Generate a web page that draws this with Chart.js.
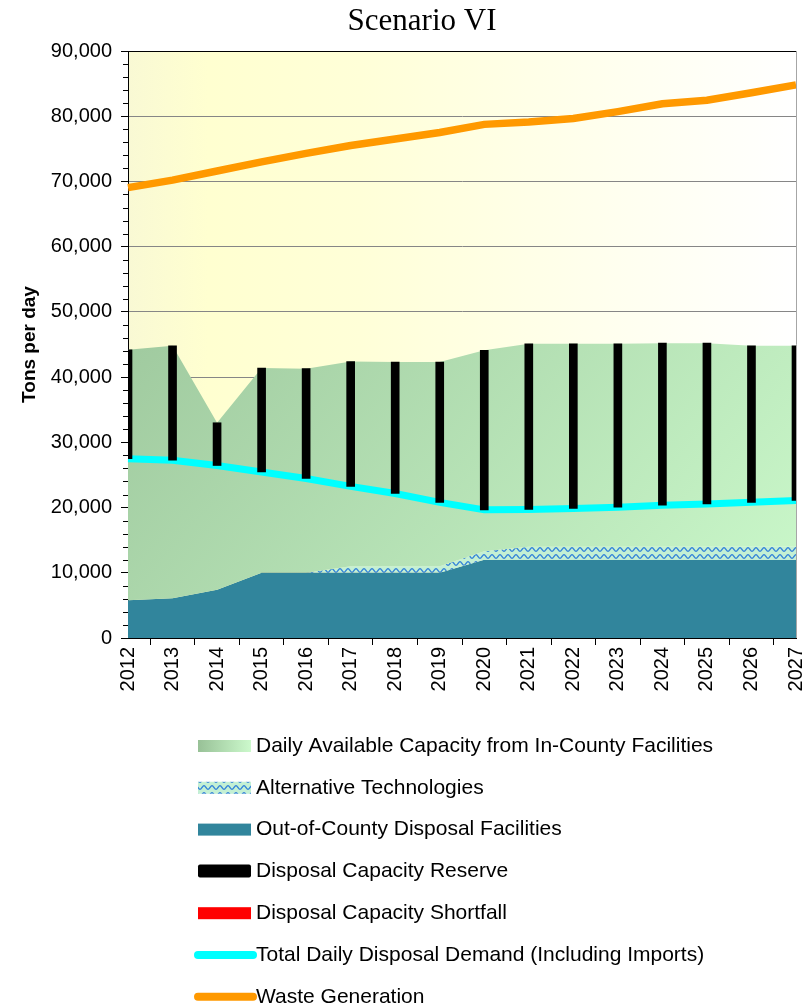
<!DOCTYPE html>
<html>
<head>
<meta charset="utf-8">
<title>Scenario VI</title>
<script src="https://cdn.jsdelivr.net/npm/chart.js@4.4.1/dist/chart.umd.min.js"></script>
<style>
  body { margin: 0; background: #fff; }
  canvas { display: block; }
</style>
</head>
<body>
<canvas id="myChart" width="812" height="1008"></canvas>
<script>
// Tons per day, one value per year
const years = ['2012', '2013', '2014', '2015', '2016', '2017', '2018', '2019',
               '2020', '2021', '2022', '2023', '2024', '2025', '2026', '2027'];
const outOfCounty = [5800, 6100, 7400, 10000, 10000, 10000, 10000, 10000,
                     12000, 12000, 12000, 12000, 12000, 12000, 12000, 12000];
const altTech = [0, 0, 0, 0, 0, 1000, 1000, 1000,
                 1300, 2000, 2000, 2000, 2000, 2000, 2000, 2000];
const inCounty = [38400, 38700, 25600, 31400, 31300, 31400, 31300, 31300,
                  30800, 31100, 31100, 31100, 31200, 31200, 30800, 30800];
const demand = [27500, 27250, 26450, 25450, 24450, 23250, 22150, 20800,
                19650, 19700, 19850, 20050, 20350, 20550, 20800, 21100];
const shortfall = [null, null, null, null, null, null, null, null,
                   null, null, null, null, null, null, null, null];
const generation = [69050, 70200, 71600, 73000, 74300, 75500, 76500, 77500,
                    78750, 79100, 79650, 80700, 81900, 82450, 83600, 84800];
const yTicks = { min: 0, max: 90000, step: 10000, minor: 2000 };

// tops of the stacked areas
const altTop = outOfCounty.map((v, i) => v + altTech[i]);
const capacityTop = altTop.map((v, i) => v + inCounty[i]);
// reserve bars run from the demand line up to the available capacity
const reserve = demand.map((d, i) => [d, capacityTop[i]]);

const FONT = '"Liberation Sans", Arial, sans-serif';

// wavy fill used for alternative technologies
function makeWavePattern() {
  const c = document.createElement('canvas');
  c.width = 8;
  c.height = 7;
  const g = c.getContext('2d');
  g.fillStyle = '#c4f0d4';
  g.fillRect(0, 0, 8, 7);
  g.strokeStyle = '#3584d8';
  g.lineWidth = 1.3;
  g.beginPath();
  for (let x = 0; x <= 8; x += 0.5) {
    const y = 3.5 + 1.8 * Math.cos(2 * Math.PI * x / 8);
    if (x === 0) g.moveTo(x, y); else g.lineTo(x, y);
  }
  g.stroke();
  return g.createPattern(c, 'repeat');
}
const ctx = document.getElementById('myChart');
const wave = makeWavePattern();

function greenFill(context) {
  const area = context.chart.chartArea;
  if (!area) return '#b0d8ae';
  const g = context.chart.ctx.createLinearGradient(area.left, area.top, area.right, area.bottom);
  g.addColorStop(0, '#94bd93');
  g.addColorStop(1, '#ccfacc');
  return g;
}

// yellow-to-white plot background
const plotBackground = {
  id: 'plotBackground',
  beforeDraw(chart) {
    const { ctx, chartArea: a } = chart;
    const g = ctx.createLinearGradient(a.left, 0, a.right, 0);
    g.addColorStop(0, '#f9f9d4');
    g.addColorStop(0.12, '#ffffd0');
    g.addColorStop(0.35, '#ffffd8');
    g.addColorStop(1, '#ffffff');
    ctx.save();
    ctx.fillStyle = g;
    ctx.fillRect(a.left, a.top, a.right - a.left, a.bottom - a.top);
    ctx.restore();
  }
};

// minor tick marks on the y axis, plus the plot frame
const frameAndMinorTicks = {
  id: 'frameAndMinorTicks',
  afterDatasetsDraw(chart) {
    const { ctx, chartArea: a } = chart;
    ctx.save();
    ctx.strokeStyle = '#a6a6a6';
    ctx.lineWidth = 1;
    ctx.beginPath();
    ctx.moveTo(a.right + 0.5, a.top);
    ctx.lineTo(a.right + 0.5, a.bottom);
    ctx.stroke();
    ctx.strokeStyle = '#000';
    ctx.beginPath();
    ctx.moveTo(a.left, a.top + 0.5);
    ctx.lineTo(a.right, a.top + 0.5);
    ctx.stroke();
    const y = chart.scales.y;
    ctx.beginPath();
    for (let v = yTicks.min; v <= yTicks.max; v += yTicks.minor) {
      if (v % yTicks.step === 0) continue;
      const py = Math.round(y.getPixelForValue(v)) + 0.5;
      ctx.moveTo(a.left - 5, py);
      ctx.lineTo(a.left, py);
    }
    ctx.stroke();
    ctx.restore();
  }
};

// one-column legend under the chart
const columnLegend = {
  id: 'columnLegend',
  afterDraw(chart) {
    const { ctx, chartArea: a } = chart;
    const x0 = 198, x1 = 251;
    let y = a.bottom + 108;
    ctx.save();
    ctx.font = '21px ' + FONT;
    ctx.textBaseline = 'middle';
    ctx.fillStyle = '#000';
    chart.data.datasets.forEach(ds => {
      const kind = ds.legendKind;
      if (kind === 'gradient') {
        const g = ctx.createLinearGradient(x0, 0, x1, 0);
        g.addColorStop(0, '#98c197');
        g.addColorStop(1, '#ccf9cc');
        ctx.fillStyle = g;
        ctx.fillRect(x0, y - 6, x1 - x0, 12);
      } else if (kind === 'box') {
        ctx.fillStyle = ds.backgroundColor;
        ctx.fillRect(x0, y - 6, x1 - x0, 12);
      } else if (kind === 'bar') {
        ctx.fillStyle = ds.backgroundColor;
        ctx.beginPath();
        ctx.roundRect(x0, y - 7, x1 - x0, 13, 2);
        ctx.fill();
      } else if (kind === 'line') {
        ctx.strokeStyle = ds.borderColor;
        ctx.lineWidth = 8;
        ctx.lineCap = 'round';
        ctx.beginPath();
        ctx.moveTo(x0, y);
        ctx.lineTo(x1 + 2, y);
        ctx.stroke();
      }
      ctx.fillStyle = '#000';
      ctx.fillText(ds.label, 256, y);
      y += 41.8;
    });
    ctx.restore();
  }
};

new Chart(ctx, {
  type: 'line',
  data: {
    labels: years,
    datasets: [
      {
        label: 'Daily Available Capacity from In-County Facilities',
        data: capacityTop,
        backgroundColor: greenFill,
        fill: 1,
        borderWidth: 0,
        pointRadius: 0,
        order: 8,
        legendKind: 'gradient'
      },
      {
        label: 'Alternative Technologies',
        data: altTop,
        backgroundColor: wave,
        fill: 2,
        borderWidth: 0,
        pointRadius: 0,
        order: 9,
        legendKind: 'box'
      },
      {
        label: 'Out-of-County Disposal Facilities',
        data: outOfCounty,
        backgroundColor: '#31859c',
        fill: 'origin',
        borderWidth: 0,
        pointRadius: 0,
        order: 10,
        legendKind: 'box'
      },
      {
        type: 'bar',
        label: 'Disposal Capacity Reserve',
        data: reserve,
        backgroundColor: '#000000',
        barThickness: 8,
        grouped: false,
        order: 4,
        legendKind: 'bar'
      },
      {
        type: 'bar',
        label: 'Disposal Capacity Shortfall',
        data: shortfall,
        backgroundColor: '#ff0000',
        barThickness: 8,
        grouped: false,
        order: 3,
        legendKind: 'box'
      },
      {
        label: 'Total Daily Disposal Demand (Including Imports)',
        data: demand,
        borderColor: '#00ffff',
        borderWidth: 7,
        fill: false,
        pointRadius: 0,
        order: 5,
        legendKind: 'line'
      },
      {
        label: 'Waste Generation',
        data: generation,
        borderColor: '#ff9900',
        borderWidth: 7.5,
        fill: false,
        pointRadius: 0,
        order: 1,
        legendKind: 'line'
      }
    ]
  },
  options: {
    responsive: false,
    animation: false,
    layout: { padding: { left: 48, right: 16, top: 0, bottom: 310 } },
    plugins: {
      legend: { display: false },
      tooltip: { enabled: false },
      title: {
        display: true,
        text: 'Scenario VI',
        color: '#000',
        font: { family: '"Liberation Serif", "Times New Roman", serif', size: 31, weight: 'normal' },
        padding: { top: 3, bottom: 10.8 }
      }
    },
    scales: {
      x: {
        type: 'category',
        offset: false,
        afterFit(scale) {
          scale.height = 60;
          scale.paddingLeft = 0;
          scale.paddingRight = 0;
        },
        grid: { drawOnChartArea: false, drawTicks: true, tickLength: 7, tickColor: '#000' },
        border: { color: '#000', width: 1 },
        ticks: {
          color: '#000',
          font: { family: FONT, size: 20 },
          minRotation: 90,
          maxRotation: 90,
          padding: 2,
          autoSkip: false
        }
      },
      y: {
        min: yTicks.min,
        max: yTicks.max,
        afterFit(scale) { scale.width = 80; },
        grid: { color: '#868686', lineWidth: 1, tickLength: 7, tickColor: '#000' },
        border: { color: '#000', width: 1 },
        ticks: {
          stepSize: yTicks.step,
          color: '#000',
          font: { family: FONT, size: 20 },
          padding: 9,
          callback: v => String(v).replace(/\B(?=(\d{3})+(?!\d))/g, ',')
        },
        title: {
          display: true,
          text: 'Tons per day',
          color: '#000',
          font: { family: FONT, size: 19, weight: 'bold' },
          padding: { top: -30, bottom: 0 }
        }
      }
    }
  },
  plugins: [plotBackground, frameAndMinorTicks, columnLegend]
});
</script>
</body>
</html>
